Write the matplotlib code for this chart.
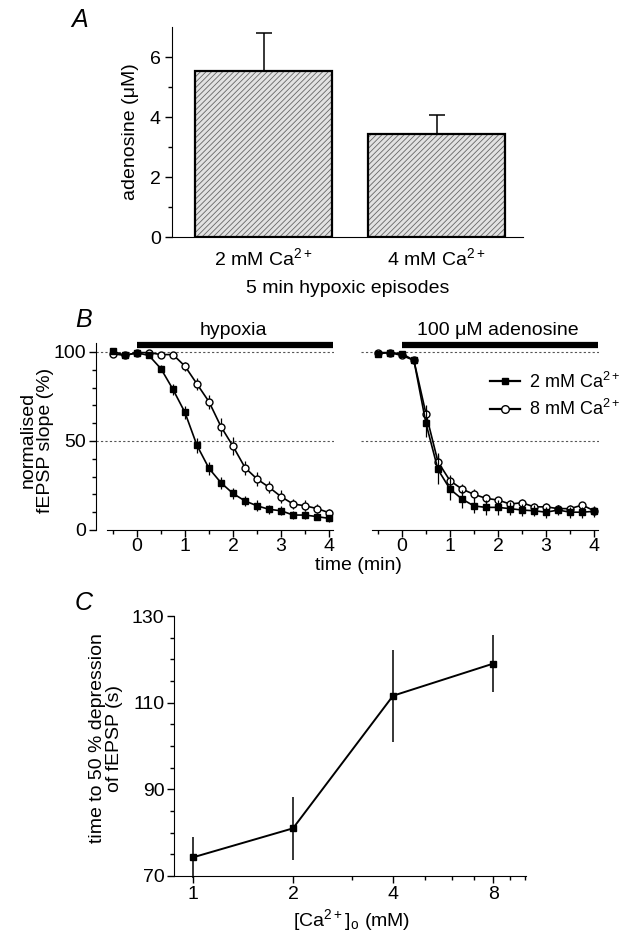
import numpy as np
import matplotlib
matplotlib.use("Agg")
import matplotlib.pyplot as plt
from matplotlib.lines import Line2D
from matplotlib.ticker import MultipleLocator, FixedLocator, NullFormatter

plt.rcParams['font.family'] = ['Liberation Sans', 'DejaVu Sans']
plt.rcParams['mathtext.default'] = 'regular'
plt.rcParams['font.size'] = 14
plt.rcParams['hatch.linewidth'] = 0.6

# panel A
bar_labels = ['2 mM Ca$^{2+}$', '4 mM Ca$^{2+}$']
bar_vals = [5.55, 3.45]
bar_err = [1.25, 0.62]

# panel B
times = [-0.5, -0.25, 0, 0.25, 0.5, 0.75, 1.0, 1.25, 1.5, 1.75, 2.0,
         2.25, 2.5, 2.75, 3.0, 3.25, 3.5, 3.75, 4.0]
hyp_2 = [100.5, 98, 99.5, 98, 90.6, 79, 66, 47.5, 34.6, 26.5, 20.5,
         16.3, 13.6, 11.6, 10.8, 8.4, 8.4, 7.5, 6.5]
hyp_2_err = [1, 1, 1, 1.5, 2, 3, 3.5, 4, 3.5, 3.5, 3, 3, 3, 2.5, 2.5, 2.5, 2, 2, 2]
hyp_8 = [99, 98, 99.6, 99.6, 98.5, 98.5, 92, 82, 72, 58, 47,
         35, 28.6, 24, 18.7, 14.6, 13.6, 12, 9.7]
hyp_8_err = [1, 1, 1, 1, 1, 1.5, 2.5, 3.5, 4, 5, 5, 4, 4, 3.5, 3.5, 3, 3, 2.5, 2]
ado_2 = [99, 99.6, 99, 95.3, 60, 34, 23, 17.4, 13.5, 12.7, 12.7,
         12, 11.2, 10.8, 10, 11.2, 10, 10, 10.5]
ado_2_err = [1, 1, 1, 2, 8, 8, 6, 5, 4, 4, 4, 3.5, 3.5, 3, 3, 3, 3, 3, 3]
ado_8 = [99.6, 99.6, 98, 95.3, 65.4, 38.3, 27.7, 23, 20, 17.8, 16.8,
         14.6, 15.3, 13, 13, 12, 12, 14, 10.8]
ado_8_err = [1, 1, 1, 1.5, 5, 5, 3, 3, 3, 2.5, 2, 2, 2, 2, 2, 2, 2, 2, 1.5]
period = [0, 4.08]

# panel C
ca_conc = [1, 2, 4, 8]
t50 = [74.3, 81.0, 111.6, 119.0]
t50_err = [4.8, 7.3, 10.6, 6.6]

W, H = 631, 940
fig = plt.figure(figsize=(W / 100, H / 100), dpi=100)


def box(l, t, r, b):
    return [l / W, 1 - b / H, (r - l) / W, (b - t) / H]


# ---- A ----
axA = fig.add_axes(box(172, 27, 523, 237))
x = np.arange(len(bar_vals))
axA.bar(x, bar_vals, width=0.79, color='#e2e2e2', edgecolor='#666666',
        hatch='//////', linewidth=0, zorder=2)
axA.bar(x, bar_vals, width=0.79, fill=False, edgecolor='black', linewidth=1.6, zorder=3)
axA.errorbar(x, bar_vals, yerr=[[0, 0], bar_err], fmt='none', ecolor='black',
             elinewidth=1.1, capsize=6, capthick=1.1, zorder=1)
axA.set_xlim(-0.53, 1.5)
axA.set_ylim(0, 7)
axA.set_xticks(x)
axA.set_xticklabels(bar_labels)
axA.tick_params(axis='x', length=0, pad=7)
axA.yaxis.set_major_locator(FixedLocator([0, 2, 4, 6]))
axA.yaxis.set_minor_locator(FixedLocator([1, 3, 5]))
axA.tick_params(axis='y', which='major', length=5, width=1, pad=3)
axA.tick_params(axis='y', which='minor', length=3, width=1)
for s in ['top', 'right']:
    axA.spines[s].set_visible(False)
axA.set_ylabel('adenosine (\u03bcM)', labelpad=8)
axA.set_xlabel('5 min hypoxic episodes', labelpad=8)
fig.text(80 / W, 1 - 20 / H, 'A', fontsize=18, style='italic', ha='center', va='center')


# ---- B ----
def draw_curves(ax, y2, e2, y8, e8):
    ax.axhline(100, color='#555555', lw=0.8, ls=(0, (2, 2)), zorder=0)
    ax.axhline(50, color='#555555', lw=0.8, ls=(0, (2, 2)), zorder=0)
    ax.errorbar(times, y8, yerr=e8, fmt='-o', color='black', mfc='white', mec='black',
                ms=5, lw=1.2, elinewidth=0.9, capsize=0, zorder=3)
    ax.errorbar(times, y2, yerr=e2, fmt='-s', color='black', mfc='black',
                ms=4.5, lw=1.2, elinewidth=0.9, capsize=0, zorder=4)
    ax.plot(period, [103.6, 103.6], color='black', lw=4.5, clip_on=False, solid_capstyle='butt')
    ax.set_xlim(-0.85, 4.1)
    ax.set_ylim(0, 105)
    ax.set_xticks([0, 1, 2, 3, 4])
    ax.xaxis.set_minor_locator(FixedLocator([-0.5, 0.5, 1.5, 2.5, 3.5]))
    ax.spines['bottom'].set_bounds(-0.62, 4.08)
    ax.tick_params(axis='x', which='major', length=5, width=1, pad=1)
    ax.tick_params(axis='x', which='minor', length=3, width=1)
    for s in ['top', 'right']:
        ax.spines[s].set_visible(False)


axB1 = fig.add_axes(box(96, 343, 334, 530))
draw_curves(axB1, hyp_2, hyp_2_err, hyp_8, hyp_8_err)
axB1.yaxis.set_major_locator(FixedLocator([0, 50, 100]))
axB1.yaxis.set_minor_locator(FixedLocator([10, 20, 30, 40, 60, 70, 80, 90]))
axB1.tick_params(axis='y', which='major', length=5, width=1, pad=2)
axB1.tick_params(axis='y', which='minor', length=3, width=1)
axB1.text(2.0, 112, 'hypoxia', ha='center', va='center')

axB2 = fig.add_axes(box(361, 343, 599, 530))
draw_curves(axB2, ado_2, ado_2_err, ado_8, ado_8_err)
axB2.spines['left'].set_visible(False)
axB2.set_yticks([])
axB2.text(2.0, 112, '100 \u03bcM adenosine', ha='center', va='center')
handles = [Line2D([], [], color='black', marker='s', ms=5, lw=1.6),
           Line2D([], [], color='black', marker='o', mfc='white', ms=5.5, lw=1.6)]
axB2.legend(handles, ['2 mM Ca$^{2+}$', '8 mM Ca$^{2+}$'], loc='center left',
            bbox_to_anchor=(0.54, 0.72), frameon=False, handlelength=1.7,
            handletextpad=0.5, labelspacing=0.4, borderpad=0, borderaxespad=0,
            fontsize=13)

fig.text(358 / W, 1 - 566 / H, 'time (min)', ha='center', va='center')
fig.text(37 / W, 1 - 440 / H, 'normalised\nfEPSP slope (%)', rotation=90, ha='center',
         va='center', multialignment='center', linespacing=1.0)
fig.text(84 / W, 1 - 320 / H, 'B', fontsize=18, style='italic', ha='center', va='center')

# ---- C ----
axC = fig.add_axes(box(174, 616, 526, 876))
axC.errorbar(ca_conc, t50, yerr=t50_err, fmt='-s', color='black', ms=4.5, lw=1.4,
             elinewidth=1.1, capsize=0, clip_on=False, zorder=3)
axC.set_xscale('log')
axC.set_xlim(0.877, 10.05)
axC.set_ylim(70, 130)
axC.xaxis.set_major_locator(FixedLocator(ca_conc))
axC.xaxis.set_major_formatter(plt.FixedFormatter([str(c) for c in ca_conc]))
axC.xaxis.set_minor_locator(FixedLocator([3, 5, 6, 7, 9, 10]))
axC.xaxis.set_minor_formatter(NullFormatter())
axC.yaxis.set_major_locator(FixedLocator([70, 90, 110, 130]))
axC.yaxis.set_minor_locator(MultipleLocator(5))
axC.tick_params(which='major', length=5, width=1, pad=2)
axC.tick_params(which='minor', length=3, width=1)
for s in ['top', 'right']:
    axC.spines[s].set_visible(False)
fig.text(106 / W, 1 - 738 / H, 'time to 50 % depression\nof fEPSP (s)', rotation=90,
         ha='center', va='center', multialignment='center', linespacing=1.0)
fig.text(352 / W, 1 - 920 / H, '[Ca$^{2+}$]$_{o}$ (mM)', ha='center', va='center')
fig.text(84 / W, 1 - 603 / H, 'C', fontsize=18, style='italic', ha='center', va='center')

fig.savefig('out.png', dpi=100)
